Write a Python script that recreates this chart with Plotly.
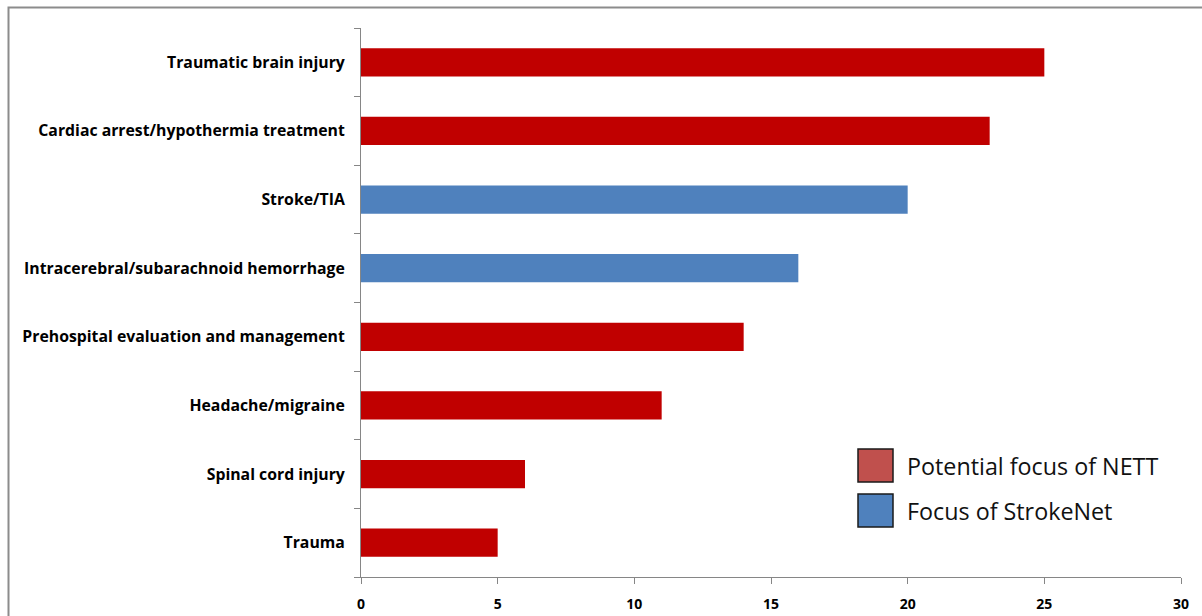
import plotly.graph_objects as go

categories = [
    "Traumatic brain injury",
    "Cardiac arrest/hypothermia treatment",
    "Stroke/TIA",
    "Intracerebral/subarachnoid hemorrhage",
    "Prehospital evaluation and management",
    "Headache/migraine",
    "Spinal cord injury",
    "Trauma",
]
values = [25, 23, 20, 16, 14, 11, 6, 5]
groups = ["NETT", "NETT", "StrokeNet", "StrokeNet", "NETT", "NETT", "NETT", "NETT"]
x_ticks = [0, 5, 10, 15, 20, 25, 30]
legend_labels = ["Potential focus of NETT", "Focus of StrokeNet"]

bar_colors = {"NETT": "#C00000", "StrokeNet": "#4F81BD"}
legend_colors = ["#C0504D", "#4F81BD"]

W, H = 1202, 616
L, R, T, B = 361, 21, 28, 39
pw, ph = W - L - R, H - T - B

fig = go.Figure()
fig.add_trace(go.Bar(
    y=categories, x=values, orientation="h",
    marker=dict(color=[bar_colors[g] for g in groups], line=dict(width=0)),
    width=0.41, showlegend=False, hoverinfo="x+y",
))

font_fam = "'Open Sans', Lato, Arial, sans-serif"

fig.update_layout(
    width=W, height=H,
    margin=dict(l=L, r=R, t=T, b=B, autoexpand=False),
    paper_bgcolor="white", plot_bgcolor="white",
    xaxis=dict(
        range=[0, 30], tickvals=x_ticks, ticktext=[str(v) for v in x_ticks],
        showgrid=False, zeroline=False, showline=True, linecolor="#868686", linewidth=1,
        ticks="outside", ticklen=6, tickcolor="#868686",
        tickfont=dict(family=font_fam, size=14, color="black", weight="bold"),
        ticklabelstandoff=8, automargin=False,
        fixedrange=True,
    ),
    yaxis=dict(
        categoryorder="array", categoryarray=categories[::-1],
        range=[-0.5, 7.5],
        showgrid=False, zeroline=False, showline=True, linecolor="#868686", linewidth=1,
        ticks="outside", ticklen=6, tickcolor="#868686", tickson="boundaries",
        tickfont=dict(family=font_fam, size=15.8, color="black", weight="bold"),
        ticklabelstandoff=12, automargin=False,
        fixedrange=True,
    ),
    font=dict(family=font_fam),
)

def px_x(x):
    return (x - L) / pw

def px_y(y):
    return (H - B - y) / ph

# outer frame
fig.add_shape(type="rect", xref="paper", yref="paper",
              x0=px_x(8.5), x1=px_x(1230), y0=px_y(660), y1=px_y(7.5),
              line=dict(color="#8C8C8C", width=2), fillcolor="rgba(0,0,0,0)", layer="below")

# legend
box_tops = [449, 494]
for i, (lab, col) in enumerate(zip(legend_labels, legend_colors)):
    y0 = box_tops[i]
    fig.add_shape(type="rect", xref="paper", yref="paper",
                  x0=px_x(858), x1=px_x(893), y0=px_y(y0 + 33), y1=px_y(y0),
                  line=dict(color="#1a1a1a", width=1.5), fillcolor=col)
    fig.add_annotation(xref="paper", yref="paper", x=px_x(905), y=px_y(y0 + 17),
                       text=lab, showarrow=False, xanchor="left", yanchor="middle",
                       font=dict(family=font_fam, size=23.3, color="#111111"))

fig.write_html("out.html")
